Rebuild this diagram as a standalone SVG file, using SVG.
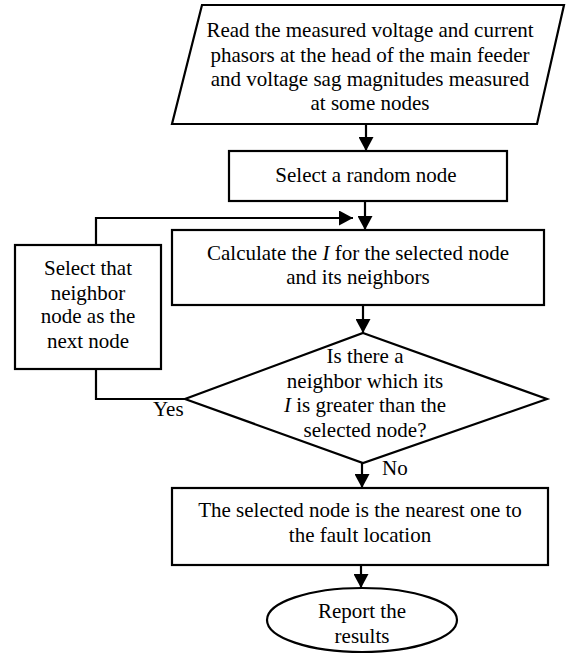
<svg xmlns="http://www.w3.org/2000/svg" width="569" height="655" viewBox="0 0 569 655">
<style>
.s{fill:#fff;stroke:#000;stroke-width:2.2}
.c{fill:none;stroke:#000;stroke-width:2.2}
text{font-size:21px;fill:#000}
.m{text-anchor:middle}
</style>
<defs>
<marker id="ah" markerUnits="userSpaceOnUse" markerWidth="15" markerHeight="15" refX="14" refY="7.5" orient="auto">
<path d="M0,0 L14,7.5 L0,15 z" fill="#000"/>
</marker>
</defs>
<g font-family="'Liberation Serif', Tinos, 'Times New Roman', 'DejaVu Serif', serif">
<g id="connectors">
<line class="c" x1="366" y1="124" x2="366" y2="151" marker-end="url(#ah)"/>
<line class="c" x1="365" y1="201" x2="365" y2="230" marker-end="url(#ah)"/>
<polyline class="c" points="96,245 96,218 353,218" marker-end="url(#ah)"/>
<line class="c" x1="363" y1="305" x2="363" y2="333" marker-end="url(#ah)"/>
<polyline class="c" points="96,369 96,399 185,399"/>
<line class="c" x1="362" y1="463" x2="362" y2="488" marker-end="url(#ah)"/>
<line class="c" x1="361" y1="565" x2="361" y2="588" marker-end="url(#ah)"/>
<text x="153" y="416">Yes</text>
<text x="382" y="475">No</text>
</g>
<g id="read">
<polygon class="s" points="202,5 564,5 537,124 172,124"/>
<text class="m" x="370" y="37">Read the measured voltage and current</text>
<text class="m" x="370" y="62">phasors at the head of the main feeder</text>
<text class="m" x="370" y="86">and voltage sag magnitudes measured</text>
<text class="m" x="370" y="110">at some nodes</text>
</g>
<g id="random">
<rect class="s" x="229" y="151" width="278" height="50"/>
<text class="m" x="366" y="182">Select a random node</text>
</g>
<g id="calc">
<rect class="s" x="172" y="230" width="372" height="75"/>
<text class="m" x="358" y="260">Calculate the <tspan font-style="italic">I</tspan> for the selected node</text>
<text class="m" x="358" y="284">and its neighbors</text>
</g>
<g id="neighbor">
<rect class="s" x="15" y="245" width="146" height="124"/>
<text class="m" x="88" y="275">Select that</text>
<text class="m" x="88" y="300">neighbor</text>
<text class="m" x="88" y="323">node as the</text>
<text class="m" x="88" y="348">next node</text>
</g>
<g id="decision">
<polygon class="s" points="363,333 547,399 363,463 185,399"/>
<text class="m" x="365" y="363">Is there a</text>
<text class="m" x="365" y="388">neighbor which its</text>
<text class="m" x="365" y="412"><tspan font-style="italic">I</tspan> is greater than the</text>
<text class="m" x="365" y="437">selected node?</text>
</g>
<g id="nearest">
<rect class="s" x="172" y="488" width="376" height="77"/>
<text class="m" x="360" y="517">The selected node is the nearest one to</text>
<text class="m" x="360" y="542">the fault location</text>
</g>
<g id="report">
<ellipse class="s" cx="362" cy="620" rx="95" ry="32"/>
<text class="m" x="362" y="618">Report the</text>
<text class="m" x="362" y="643">results</text>
</g>
</g>
</svg>
